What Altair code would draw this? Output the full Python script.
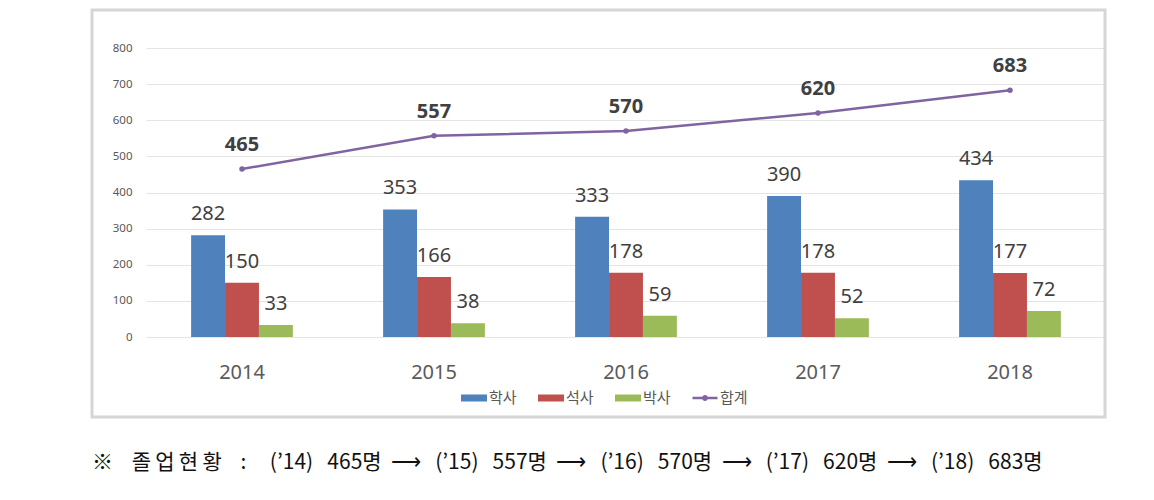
import altair as alt
import pandas as pd

years = ["2014", "2015", "2016", "2017", "2018"]
bachelor = [282, 353, 333, 390, 434]
master = [150, 166, 178, 178, 177]
doctor = [33, 38, 59, 52, 72]
total = [465, 557, 570, 620, 683]
series = ["학사", "석사", "박사"]
legend_series = ["학사", "석사", "박사", "합계"]
colors = ["#4F81BD", "#C0504D", "#9BBB59", "#8064A2"]
y_ticks = [0, 100, 200, 300, 400, 500, 600, 700, 800]

NB = "\u00a0"
TH = "\u2009"
head = "※" + NB * 4 + TH.join("졸업현황") + NB * 4 + ":" + NB * 5
periods = [f"(’{y[2:]}){NB * 3}{t}명" for y, t in zip(years, total)]
footer = head + (NB * 2 + "⟶" + NB * 3).join(periods)

bars_df = pd.DataFrame({
    "연도": years * 3,
    "구분": [s for s in series for _ in years],
    "값": bachelor + master + doctor,
})
total_df = pd.DataFrame({"연도": years, "구분": ["합계"] * len(years), "값": total})
all_df = pd.concat([bars_df, total_df], ignore_index=True)

x_enc = alt.X(
    "연도:N",
    scale=alt.Scale(domain=years, paddingInner=0.47, paddingOuter=0.235),
    axis=alt.Axis(title=None, labelAngle=0, labelFontSize=20, labelColor="#595959",
                  labelFont="Noto Sans", labelPadding=25, domain=False, ticks=False, grid=False),
)
y_enc = alt.Y(
    "값:Q",
    scale=alt.Scale(domain=[0, 800], nice=False),
    axis=alt.Axis(title=None, values=y_ticks, labelFontSize=11.5, labelColor="#595959",
                  labelFont="Noto Sans", labelPadding=14, domain=False, ticks=False,
                  grid=True, gridColor="#e4e4e4", gridWidth=1),
)
xoff = alt.XOffset("구분:N", scale=alt.Scale(domain=series, paddingInner=0, paddingOuter=0))
color_scale = alt.Scale(domain=legend_series, range=colors)

frame = alt.Chart(pd.DataFrame({"k": [0]})).mark_rect(
    fillOpacity=0, stroke="#d6d6d6", strokeWidth=3
).encode(x=alt.value(-54), x2=alt.value(959), y=alt.value(-38), y2=alt.value(369))

bars = alt.Chart(bars_df).mark_bar().encode(
    x=x_enc, y=y_enc, xOffset=xoff,
    color=alt.Color("구분:N", scale=color_scale),
)
bar_text = alt.Chart(bars_df).mark_text(
    baseline="bottom", dy=-11, fontSize=20, color="#404040", font="Noto Sans"
).encode(x=x_enc, y=y_enc, xOffset=xoff, text="값:Q")

line = alt.Chart(total_df).mark_line(
    color="#8064A2", strokeWidth=2.5,
    point=alt.OverlayMarkDef(color="#8064A2", size=30, filled=True),
).encode(x=x_enc, y=y_enc)
line_text = alt.Chart(total_df).mark_text(
    baseline="bottom", dy=-14, fontSize=20, fontWeight="bold", color="#404040", font="Noto Sans"
).encode(x=x_enc, y=y_enc, text="값:Q")

rect_path = "M-1.3,-0.35H1.3V0.35H-1.3Z"
line_path = "M-1.25,-0.12H1.25V0.12H-1.25Z M-0.3,0A0.3,0.3,0,1,1,0.3,0A0.3,0.3,0,1,1,-0.3,0Z"
leg = alt.Legend(title=None, orient="none", direction="horizontal",
                 legendX=317, legendY=339, symbolSize=400, symbolOpacity=1,
                 labelFont="Noto Sans CJK KR", labelFontSize=15,
                 labelColor="#595959", labelOffset=4, columnPadding=18)
legend_pts = alt.Chart(all_df).mark_point(filled=True, opacity=0).encode(
    x=x_enc, y=y_enc,
    color=alt.Color("구분:N", scale=color_scale, legend=leg),
    shape=alt.Shape("구분:N", scale=alt.Scale(domain=legend_series,
                                               range=[rect_path, rect_path, rect_path, line_path]),
                    legend=leg),
)

foot = alt.Chart(pd.DataFrame({"t": [footer]})).mark_text(
    align="left", baseline="middle", fontSize=21, font="Noto Sans CJK KR", color="#111111"
).encode(x=alt.value(-54), y=alt.value(415), text="t:N")

chart = alt.layer(frame, bars, bar_text, line, line_text, legend_pts, foot).properties(
    width=960, height=289,
    padding={"left": 138, "top": 40, "right": 40, "bottom": 155},
    autosize=alt.AutoSizeParams(type="none"),
).configure_view(stroke=None)

chart.save("out.html", embed_options={"renderer": "svg", "actions": False})
